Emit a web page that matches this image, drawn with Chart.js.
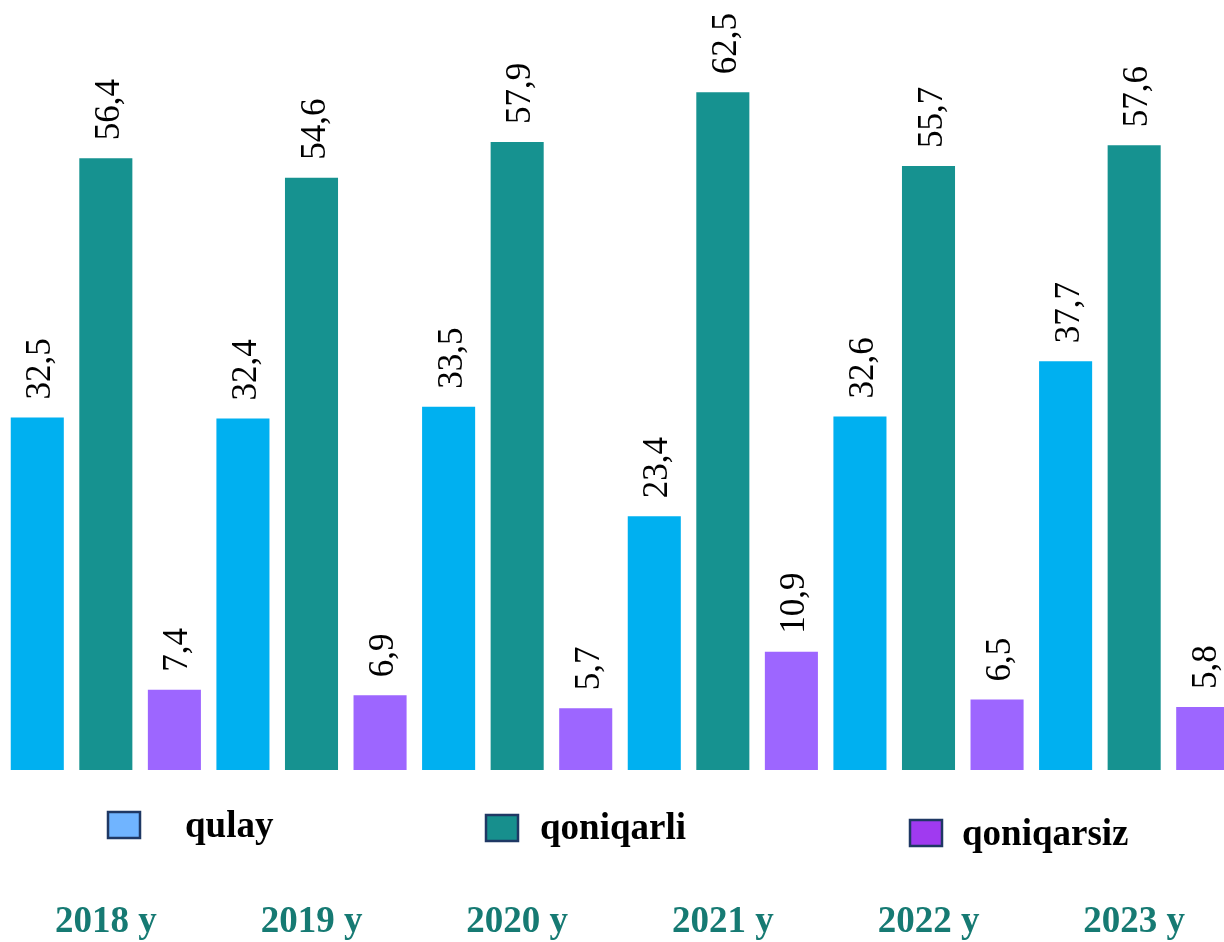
<!DOCTYPE html>
<html>
<head>
<meta charset="utf-8">
<script src="https://cdn.jsdelivr.net/npm/chart.js@4/dist/chart.umd.min.js"></script>
<style>
  html, body { margin: 0; padding: 0; background: #fff; overflow: hidden; }
  #wrap { width: 1237px; height: 942px; }
</style>
</head>
<body>
<div id="wrap"><canvas id="barchart" width="1237" height="942"></canvas></div>
<script>
const years = ['2018 y', '2019 y', '2020 y', '2021 y', '2022 y', '2023 y'];
const qulay = [32.5, 32.4, 33.5, 23.4, 32.6, 37.7];
const qoniqarli = [56.4, 54.6, 57.9, 62.5, 55.7, 57.6];
const qoniqarsiz = [7.4, 6.9, 5.7, 10.9, 6.5, 5.8];

const SERIF = '"Liberation Serif", "Times New Roman", serif';

// legend swatches are a bit different from the bar fills
const legendItems = [
    { text: 'qulay', fill: '#70b4ff', box: [108, 812], textX: 185, base: 837 },
    { text: 'qoniqarli', fill: '#178f8d', box: [486, 815], textX: 540, base: 839 },
    { text: 'qoniqarsiz', fill: '#a03af0', box: [910, 820], textX: 962, base: 845 }
];

const valueLabels = {
    id: 'valueLabels',
    afterDatasetsDraw(chart) {
        const c = chart.ctx;
        c.save();
        c.font = '35px ' + SERIF;
        c.fillStyle = '#000';
        c.textAlign = 'left';
        c.textBaseline = 'alphabetic';
        chart.data.datasets.forEach((ds, i) => {
            chart.getDatasetMeta(i).data.forEach((bar, j) => {
                const txt = ds.data[j].toFixed(1).replace('.', ',');
                c.save();
                c.translate(bar.x + 13, bar.y - 18);
                c.rotate(-Math.PI / 2);
                c.fillText(txt, 0, 0);
                c.restore();
            });
        });
        c.restore();
    }
};

const boxLegend = {
    id: 'boxLegend',
    afterDraw(chart) {
        const c = chart.ctx;
        c.save();
        c.font = 'bold 37px ' + SERIF;
        c.textBaseline = 'alphabetic';
        legendItems.forEach(it => {
            c.fillStyle = it.fill;
            c.fillRect(it.box[0], it.box[1], 32, 26);
            c.strokeStyle = '#1f3864';
            c.lineWidth = 2.5;
            c.strokeRect(it.box[0], it.box[1], 32, 26);
            c.fillStyle = '#000';
            c.fillText(it.text, it.textX, it.base);
        });
        c.restore();
    }
};

const ctx = document.getElementById('barchart').getContext('2d');
const myChart = new Chart(ctx, {
    type: 'bar',
    data: {
        labels: years,
        datasets: [
            { label: 'qulay', data: qulay, backgroundColor: '#00b0f0' },
            { label: 'qoniqarli', data: qoniqarli, backgroundColor: '#169290' },
            { label: 'qoniqarsiz', data: qoniqarsiz, backgroundColor: '#9d66ff' }
        ]
    },
    options: {
        responsive: false,
        animation: false,
        layout: { padding: { left: 3, right: 0, top: 0, bottom: 0 } },
        datasets: {
            bar: { categoryPercentage: 1, barPercentage: 0.774, borderWidth: 0 }
        },
        plugins: {
            legend: { display: false },
            tooltip: { enabled: false }
        },
        scales: {
            x: {
                grid: { display: false, drawTicks: false },
                border: { display: false },
                ticks: {
                    color: '#167a73',
                    padding: 0,
                    maxRotation: 0,
                    autoSkip: false,
                    font: { family: SERIF, size: 37, weight: 'bold', lineHeight: 1.18 },
                    // blank lines leave room for the legend row above the years
                    callback(value) {
                        return ['', '', '', this.getLabelForValue(value)];
                    }
                },
                afterFit(scale) { scale.height = 172; }
            },
            y: {
                display: false,
                min: 0,
                max: 71
            }
        }
    },
    plugins: [valueLabels, boxLegend]
});
</script>
</body>
</html>
